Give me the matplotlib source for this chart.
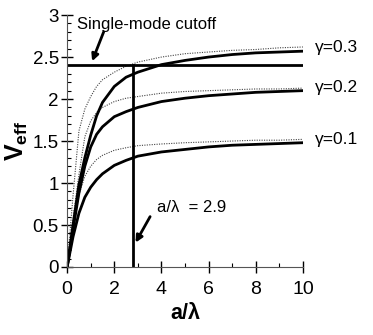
import numpy as np
import matplotlib.pyplot as plt
from matplotlib.ticker import MultipleLocator, FuncFormatter

plt.rcParams['font.family'] = ['Liberation Sans', 'DejaVu Sans']
plt.rcParams['mathtext.fontset'] = 'custom'
plt.rcParams['mathtext.rm'] = 'Liberation Sans'
plt.rcParams['mathtext.bf'] = 'Liberation Sans:bold'

# Data
x_pts = [0, 0.25, 0.5, 0.75, 1, 1.25, 1.5, 2, 2.5, 3, 4, 5, 6, 7, 8, 9, 10]

# solid curves
v_g01 = [0, 0.36, 0.64, 0.83, 0.95, 1.04, 1.11, 1.21, 1.27, 1.32, 1.37, 1.40, 1.43, 1.45, 1.46, 1.47, 1.48]
v_g02 = [0, 0.45, 0.88, 1.20, 1.43, 1.58, 1.67, 1.79, 1.85, 1.90, 1.97, 2.01, 2.04, 2.06, 2.08, 2.09, 2.10]
v_g03 = [0, 0.50, 0.98, 1.30, 1.57, 1.80, 1.96, 2.15, 2.26, 2.32, 2.41, 2.46, 2.50, 2.53, 2.55, 2.56, 2.57]

# dotted curves
d_g01 = [0, 0.48, 0.86, 1.08, 1.20, 1.28, 1.33, 1.39, 1.42, 1.445, 1.465, 1.48, 1.49, 1.50, 1.51, 1.51, 1.52]
d_g02 = [0, 0.58, 1.10, 1.55, 1.74, 1.84, 1.90, 1.97, 2.01, 2.03, 2.07, 2.09, 2.10, 2.11, 2.12, 2.12, 2.13]
d_g03 = [0, 0.85, 1.62, 1.88, 2.03, 2.15, 2.23, 2.32, 2.39, 2.44, 2.50, 2.54, 2.56, 2.58, 2.59, 2.61, 2.62]

gamma_labels = ['\u03b3=0.1', '\u03b3=0.2', '\u03b3=0.3']
cutoff_v = 2.4
cutoff_a = 2.8

fig = plt.figure(figsize=(3.73, 3.35), dpi=100)
ax = fig.add_axes([0.18, 0.203, 0.632, 0.752])

for d in [d_g01, d_g02, d_g03]:
    ax.plot(x_pts, d, color='#444444', lw=0.8, ls=(0, (1, 1.2)))
for v in [v_g01, v_g02, v_g03]:
    ax.plot(x_pts, v, color='black', lw=2.0)

ax.plot([0, 10], [cutoff_v, cutoff_v], color='black', lw=2.0)
ax.plot([cutoff_a, cutoff_a], [0, cutoff_v], color='black', lw=2.0)

for v, lab in zip([v_g01, v_g02, v_g03], gamma_labels):
    ax.text(10.5, v[-1] + 0.04, lab, fontsize=12.5, va='center', ha='left', clip_on=False)

arrow = dict(arrowstyle='-|>', color='black', lw=2, mutation_scale=10, shrinkA=0, shrinkB=0)
ax.text(0.42, 2.89, 'Single-mode cutoff', fontsize=12, ha='left', va='center')
ax.annotate('', xy=(1.06, 2.45), xytext=(1.55, 2.8), arrowprops=arrow)
ax.text(3.8, 0.71, 'a/\u03bb  = 2.9', fontsize=12, ha='left', va='center')
ax.annotate('', xy=(2.9, 0.29), xytext=(3.52, 0.6), arrowprops=arrow)

ax.set_xlim(0, 10)
ax.set_ylim(0, 3)
ax.xaxis.set_major_locator(MultipleLocator(2))
ax.xaxis.set_minor_locator(MultipleLocator(1))
ax.yaxis.set_major_locator(MultipleLocator(0.5))
ax.yaxis.set_minor_locator(MultipleLocator(0.1))
ax.yaxis.set_major_formatter(FuncFormatter(lambda v, _: f'{v:g}'))
ax.tick_params(which='major', direction='inout', length=8, width=1, labelsize=13.5, pad=2)
ax.tick_params(which='minor', direction='in', length=3, width=0.8)
ax.tick_params(axis='x', labelsize=14, pad=6)

for s in ['top', 'right']:
    ax.spines[s].set_visible(False)
for s in ['left', 'bottom']:
    ax.spines[s].set_color('#555555')

ax.set_xlabel('a/\u03bb', fontsize=15.5, fontweight='bold', labelpad=4)
ax.set_ylabel(r'$\mathbf{V_{eff}}$', fontsize=18, labelpad=2)

fig.savefig('out.png', dpi=100)
